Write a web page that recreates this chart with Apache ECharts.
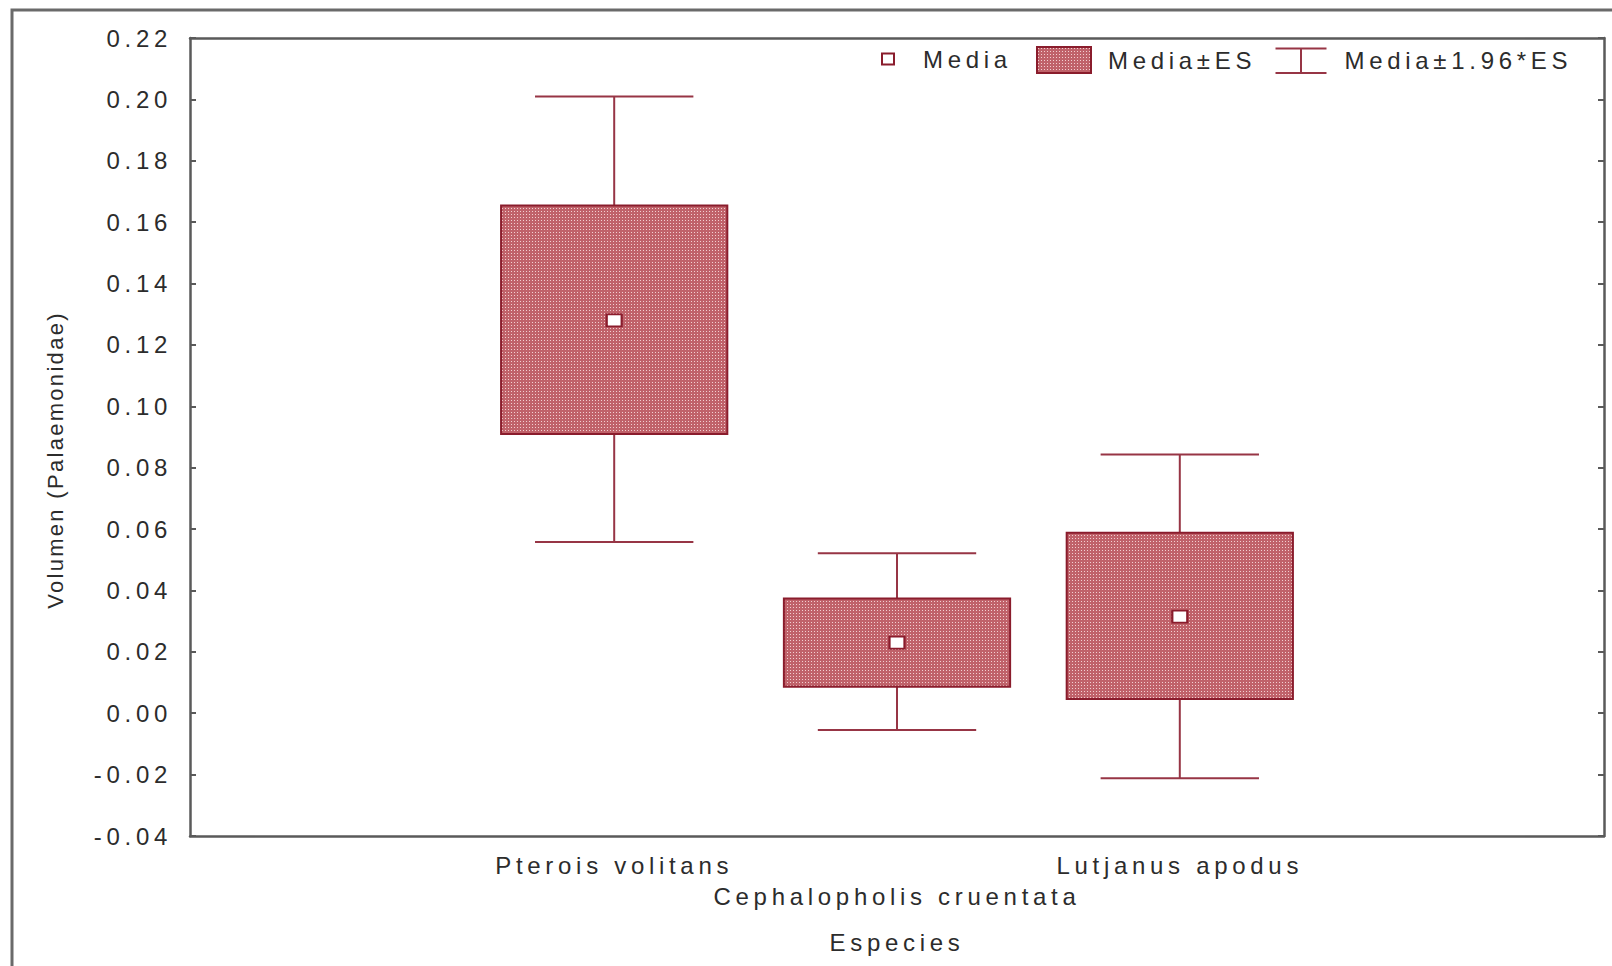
<!DOCTYPE html>
<html>
<head>
<meta charset="utf-8">
<script src="https://cdn.jsdelivr.net/npm/echarts@6/dist/echarts.min.js"></script>
<style>
  html, body { margin: 0; padding: 0; background: #fff; }
  #chart { width: 1612px; height: 966px; }
  /* wide, spaced-out lettering of the plot's text */
  #chart text { letter-spacing: 4.7px; }
  /* the value-axis title is set tighter */
  #chart text[style*="22px"] { letter-spacing: 2.3px; }
</style>
</head>
<body>
<div id="chart"></div>
<script>
// Species on the category axis
const species = ['Pterois volitans', 'Cephalopholis cruentata', 'Lutjanus apodus'];
// Mean volume (Palaemonidae) per species
const meanVals = [0.128, 0.023, 0.0315];
// Mean ± standard error
const seLow  = [0.091, 0.0086, 0.0046];
const seHigh = [0.1654, 0.0374, 0.0588];
// Mean ± 1.96 * standard error
const ciLow  = [0.0558, -0.0055, -0.0212];
const ciHigh = [0.2009, 0.0521, 0.0843];
// Value axis ticks
const yMin = -0.04, yMax = 0.22, yStep = 0.02;

// Empty slots on both sides of the three species
const axisCats = [''].concat(species, ['']);

const FONT = '"Liberation Sans", Arial, Helvetica, sans-serif';
const TEXT = '#2c2c2c';
const AXIS = '#5a5a5a';
const RED_DARK = '#8a1c2c';
const WHISKER = '#973545';

// Fine dotted red fill of the SE boxes
function dottedRed() {
  const c = document.createElement('canvas');
  c.width = 3; c.height = 3;
  const g = c.getContext('2d');
  g.fillStyle = '#c0626a';
  g.fillRect(0, 0, 3, 3);
  g.fillStyle = '#f2cfd1';
  g.fillRect(1, 1, 1, 1);
  return c;
}
const boxFill = { image: dottedRed(), repeat: 'repeat', imageWidth: 3, imageHeight: 3 };

const whiskerData = species.map((s, k) => [k + 1, ciLow[k], ciHigh[k]]);
const boxData = species.map((s, k) => [k + 1, seLow[k], seHigh[k]]);
const meanData = species.map((s, k) => [k + 1, meanVals[k]]);

const chart = echarts.init(document.getElementById('chart'), null, { renderer: 'svg' });

const legendText = { color: TEXT, fontSize: 24, fontFamily: FONT, lineHeight: 26 };
const frameLine = { onZero: false, lineStyle: { color: AXIS, width: 2.5 } };
const frameTick = { inside: true, length: 6, lineStyle: { color: AXIS, width: 2 } };

chart.setOption({
  backgroundColor: '#fff',
  animation: false,
  graphic: [{
    type: 'rect',
    shape: { x: 12, y: 10, width: 1700, height: 1100 },
    style: { fill: 'none', stroke: '#6a6a6a', lineWidth: 3 },
    silent: true
  }],
  grid: { left: 190, right: 8, top: 38, bottom: 130 },
  legend: [
    {
      selectedMode: false,
      left: 876, top: 41,
      itemWidth: 12, itemHeight: 11,
      data: [{ name: 'Media', icon: 'rect',
               itemStyle: { color: '#fff', borderColor: RED_DARK, borderWidth: 2 } }],
      textStyle: Object.assign({ padding: [0, 0, 0, 24] }, legendText)
    },
    {
      selectedMode: false,
      left: 1031, top: 41,
      itemWidth: 54, itemHeight: 26,
      data: [{ name: 'Media±ES', icon: 'rect',
               itemStyle: { color: boxFill, borderColor: RED_DARK, borderWidth: 2 } }],
      textStyle: Object.assign({ padding: [0, 0, 0, 12] }, legendText)
    },
    {
      selectedMode: false,
      left: 1268, top: 41,
      itemWidth: 51, itemHeight: 26,
      data: [{ name: 'Media±1.96*ES', icon: 'path://M0,1 H50 M25,1 V25 M0,25 H50',
               itemStyle: { color: 'none', borderColor: WHISKER, borderWidth: 2 } }],
      textStyle: Object.assign({ padding: [0, 0, 0, 13] }, legendText)
    }
  ],
  xAxis: [
    {
      type: 'category',
      data: axisCats,
      boundaryGap: true,
      position: 'bottom',
      name: 'Especies',
      nameLocation: 'middle',
      nameGap: 94,
      nameTextStyle: { color: TEXT, fontSize: 24, fontFamily: FONT },
      axisLine: frameLine,
      axisTick: Object.assign({ alignWithLabel: true, interval: 0 }, frameTick),
      axisLabel: {
        interval: 0, margin: 14, color: TEXT, fontSize: 24, fontFamily: FONT, lineHeight: 31,
        formatter: (v, i) => (i === 2 ? '\n' + v : v)
      },
      splitLine: { show: false }
    },
    {
      type: 'category',
      data: axisCats,
      boundaryGap: true,
      position: 'top',
      axisLine: frameLine,
      axisTick: Object.assign({ alignWithLabel: true, interval: 0 }, frameTick),
      axisLabel: { show: false },
      splitLine: { show: false }
    }
  ],
  yAxis: [
    {
      type: 'value',
      min: yMin, max: yMax, interval: yStep,
      position: 'left',
      name: 'Volumen (Palaemonidae)',
      nameLocation: 'middle',
      nameGap: 124,
      nameTextStyle: { color: TEXT, fontSize: 22, fontFamily: FONT, padding: [0, 46, 0, 0] },
      axisLine: Object.assign({ show: true }, frameLine),
      axisTick: Object.assign({ show: true }, frameTick),
      axisLabel: { margin: 18, color: TEXT, fontSize: 24, fontFamily: FONT,
                   formatter: v => v.toFixed(2) },
      splitLine: { show: false }
    },
    {
      type: 'value',
      min: yMin, max: yMax, interval: yStep,
      position: 'right',
      axisLine: Object.assign({ show: true }, frameLine),
      axisTick: Object.assign({ show: true }, frameTick),
      axisLabel: { show: false },
      splitLine: { show: false }
    }
  ],
  series: [
    {
      name: 'Media±1.96*ES',
      type: 'custom',
      xAxisIndex: 0, yAxisIndex: 0,
      data: whiskerData,
      encode: { x: 0, y: [1, 2] },
      itemStyle: { color: WHISKER },
      renderItem: (params, api) => {
        const i = api.value(0);
        const lo = api.coord([i, api.value(1)]);
        const hi = api.coord([i, api.value(2)]);
        const hw = api.size([1, 0])[0] * 0.28;
        const st = { stroke: WHISKER, lineWidth: 2 };
        return {
          type: 'group',
          children: [
            { type: 'line', shape: { x1: lo[0], y1: lo[1], x2: hi[0], y2: hi[1] }, style: st },
            { type: 'line', shape: { x1: lo[0] - hw, y1: lo[1], x2: lo[0] + hw, y2: lo[1] }, style: st },
            { type: 'line', shape: { x1: hi[0] - hw, y1: hi[1], x2: hi[0] + hw, y2: hi[1] }, style: st }
          ]
        };
      },
      z: 2
    },
    {
      name: 'Media±ES',
      type: 'custom',
      xAxisIndex: 0, yAxisIndex: 0,
      data: boxData,
      encode: { x: 0, y: [1, 2] },
      itemStyle: { color: '#c0626a' },
      renderItem: (params, api) => {
        const i = api.value(0);
        const lo = api.coord([i, api.value(1)]);
        const hi = api.coord([i, api.value(2)]);
        const w = api.size([1, 0])[0] * 0.8;
        return {
          type: 'rect',
          shape: { x: lo[0] - w / 2, y: hi[1], width: w, height: lo[1] - hi[1] },
          style: { fill: boxFill, stroke: RED_DARK, lineWidth: 2 }
        };
      },
      z: 3
    },
    {
      name: 'Media',
      type: 'scatter',
      xAxisIndex: 0, yAxisIndex: 0,
      data: meanData,
      symbol: 'rect',
      symbolSize: [15, 12],
      itemStyle: { color: '#fff', borderColor: RED_DARK, borderWidth: 2, opacity: 1 },
      z: 4
    }
  ]
});
</script>
</body>
</html>
